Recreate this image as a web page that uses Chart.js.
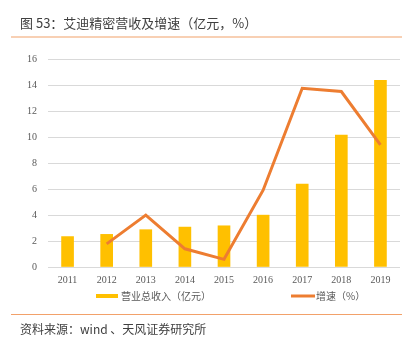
<!DOCTYPE html>
<html>
<head>
<meta charset="utf-8">
<script src="https://cdn.jsdelivr.net/npm/chart.js@4"></script>
<style>
  html, body { margin: 0; padding: 0; background: #fff; }
  #wrap { position: relative; width: 409px; height: 351px; }
</style>
</head>
<body>
<div id="wrap"><canvas id="chartData" width="409" height="351"></canvas></div>
<script>
var years = ['2011', '2012', '2013', '2014', '2015', '2016', '2017', '2018', '2019'];
var revenue = [2.34, 2.51, 2.87, 3.07, 3.17, 3.99, 6.37, 10.15, 14.36]; // 营业总收入（亿元）
var growth = [null, 1.78, 3.99, 1.40, 0.59, 5.91, 13.75, 13.50, 9.39]; // 增速（%）
var yTicks = [0, 2, 4, 6, 8, 10, 12, 14, 16];

var titleText = '图 53：艾迪精密营收及增速（亿元，%）';
var sourceText = '资料来源：wind 、天风证券研究所';
var cjk = '"Noto Sans CJK SC", "Noto Sans", sans-serif';

// title, rules, legend and source drawn on the canvas
var frame = {
    id: 'frame',
    afterDraw: function (chart) {
        var c = chart.ctx;
        c.save();
        c.fillStyle = '#404040';
        c.font = '13px ' + cjk;
        c.textBaseline = 'middle';
        c.fillText(titleText, 20, 23);

        c.strokeStyle = '#F2A16A';
        c.lineWidth = 1.2;
        c.beginPath();
        c.moveTo(11, 37); c.lineTo(402, 37);
        c.moveTo(11, 314.5); c.lineTo(402, 314.5);
        c.stroke();

        // legend
        c.fillStyle = '#FFC000';
        c.fillRect(96, 294, 22, 4);
        c.fillStyle = '#595959';
        c.font = '10px ' + cjk;
        c.fillText('营业总收入（亿元）', 121, 296);
        c.strokeStyle = '#ED7D31';
        c.lineWidth = 3;
        c.beginPath();
        c.moveTo(291, 296); c.lineTo(315, 296);
        c.stroke();
        c.fillText('增速（%）', 316, 296);

        c.fillStyle = '#404040';
        c.font = '12px ' + cjk;
        c.fillText(sourceText, 20, 329);
        c.restore();
    }
};

var ctx = document.getElementById('chartData').getContext('2d');
var chartData = new Chart(ctx, {
    data: {
        labels: years,
        datasets: [{
            type: 'line',
            label: '增速（%）',
            data: growth,
            borderColor: '#ED7D31',
            borderWidth: 3,
            pointRadius: 0,
            tension: 0,
            fill: false,
            order: 0
        }, {
            type: 'bar',
            label: '营业总收入（亿元）',
            data: revenue,
            backgroundColor: '#FFC000',
            barThickness: 12,
            order: 1
        }]
    },
    plugins: [frame],
    options: {
        responsive: false,
        animation: false,
        layout: { padding: { top: 59, right: 9, left: 0, bottom: 0 } },
        plugins: {
            legend: { display: false },
            tooltip: { enabled: false }
        },
        scales: {
            x: {
                grid: { display: false, drawTicks: false },
                border: { display: false },
                ticks: {
                    color: '#595959',
                    font: { family: '"Liberation Serif", serif', size: 10 },
                    padding: 7,
                    maxRotation: 0
                },
                afterFit: function (s) { s.height = 84; }
            },
            y: {
                min: 0,
                max: 16,
                afterBuildTicks: function (s) {
                    s.ticks = yTicks.map(function (v) { return { value: v }; });
                },
                grid: { color: '#D9D9D9', lineWidth: 1, drawTicks: false },
                border: { display: false },
                ticks: {
                    color: '#595959',
                    font: { family: '"Liberation Serif", serif', size: 10 },
                    padding: 11
                },
                afterFit: function (s) { s.width = 48; }
            }
        }
    }
});
</script>
</body>
</html>
